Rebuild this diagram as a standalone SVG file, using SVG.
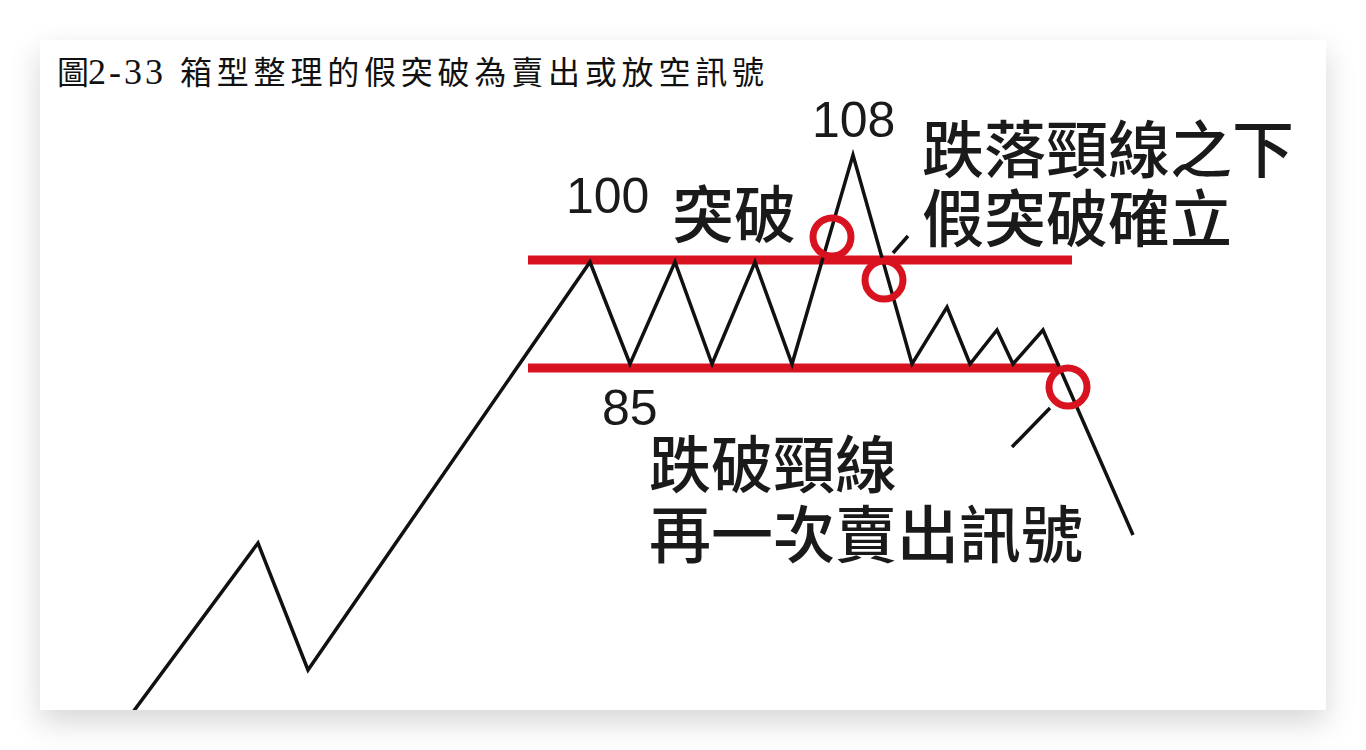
<svg xmlns="http://www.w3.org/2000/svg" width="1366" height="750" viewBox="0 0 1366 750">
<defs>
<filter id="sh" x="-10%" y="-10%" width="120%" height="130%">
<feDropShadow dx="0" dy="12" stdDeviation="15" flood-color="#000" flood-opacity="0.16"/>
</filter>
<clipPath id="card"><rect x="40" y="40" width="1286" height="670"/></clipPath>
</defs>
<style>
.title{font-family:"Liberation Serif","Noto Sans CJK TC",serif;fill:#111;font-size:32px}
.num{font-family:"Liberation Sans",Arial,sans-serif;font-size:50px;fill:#1a1a1a}
.lbl{font-family:"Noto Sans CJK TC","Noto Sans CJK SC",sans-serif;font-size:62px;font-weight:500;fill:#1a1a1a}
.price{fill:none;stroke:#111;stroke-width:3.5;stroke-linejoin:miter;stroke-linecap:butt}
.lead{fill:none;stroke:#111;stroke-width:3.5}
.neck{stroke:#d9121f;stroke-width:9}
.ring{fill:none;stroke:#d9121f;stroke-width:7}
</style>
<rect width="1366" height="750" fill="#ffffff"/>
<rect x="40" y="40" width="1286" height="670" fill="#ffffff" filter="url(#sh)"/>
<g id="title">
<text class="title" y="84"><tspan x="57">圖</tspan><tspan x="88" font-size="36" letter-spacing="3">2-33</tspan><tspan x="180" letter-spacing="4.8">箱型整理的假突破為賣出或放空訊號</tspan></text>
</g>
<g id="connectors" clip-path="url(#card)">
<line id="resistance" class="neck" x1="528" y1="260" x2="1072" y2="260"/>
<line id="support" class="neck" x1="528" y1="368" x2="1060" y2="368"/>
<polyline id="price" class="price" points="133,712 258,543 308,670 590,262 630,364 675,262 712,364 755,262 792,364 853,155 912,364 947,307 970,364 997,330 1013,364 1043,330 1133,535"/>
<line class="lead" x1="893" y1="253" x2="908" y2="236"/>
<line class="lead" x1="1012" y1="447" x2="1050" y2="408"/>
</g>
<g id="circle-breakout"><circle class="ring" cx="832" cy="237" r="19"/></g>
<g id="circle-fall"><circle class="ring" cx="884" cy="280" r="19"/></g>
<g id="circle-break"><circle class="ring" cx="1068" cy="387" r="19"/></g>
<g id="label-100"><text class="num" x="566" y="213">100</text></g>
<g id="label-108"><text class="num" x="812" y="137">108</text></g>
<g id="label-85"><text class="num" x="602" y="425">85</text></g>
<g id="label-breakout"><text class="lbl" x="672" y="238">突破</text></g>
<g id="label-false">
<text class="lbl" y="173"><tspan x="922">跌落頸線之下</tspan><tspan x="922" dy="69">假突破確立</tspan></text>
</g>
<g id="label-sell">
<text class="lbl" y="488"><tspan x="649">跌破頸線</tspan><tspan x="649" dy="70">再一次賣出訊號</tspan></text>
</g>
</svg>
